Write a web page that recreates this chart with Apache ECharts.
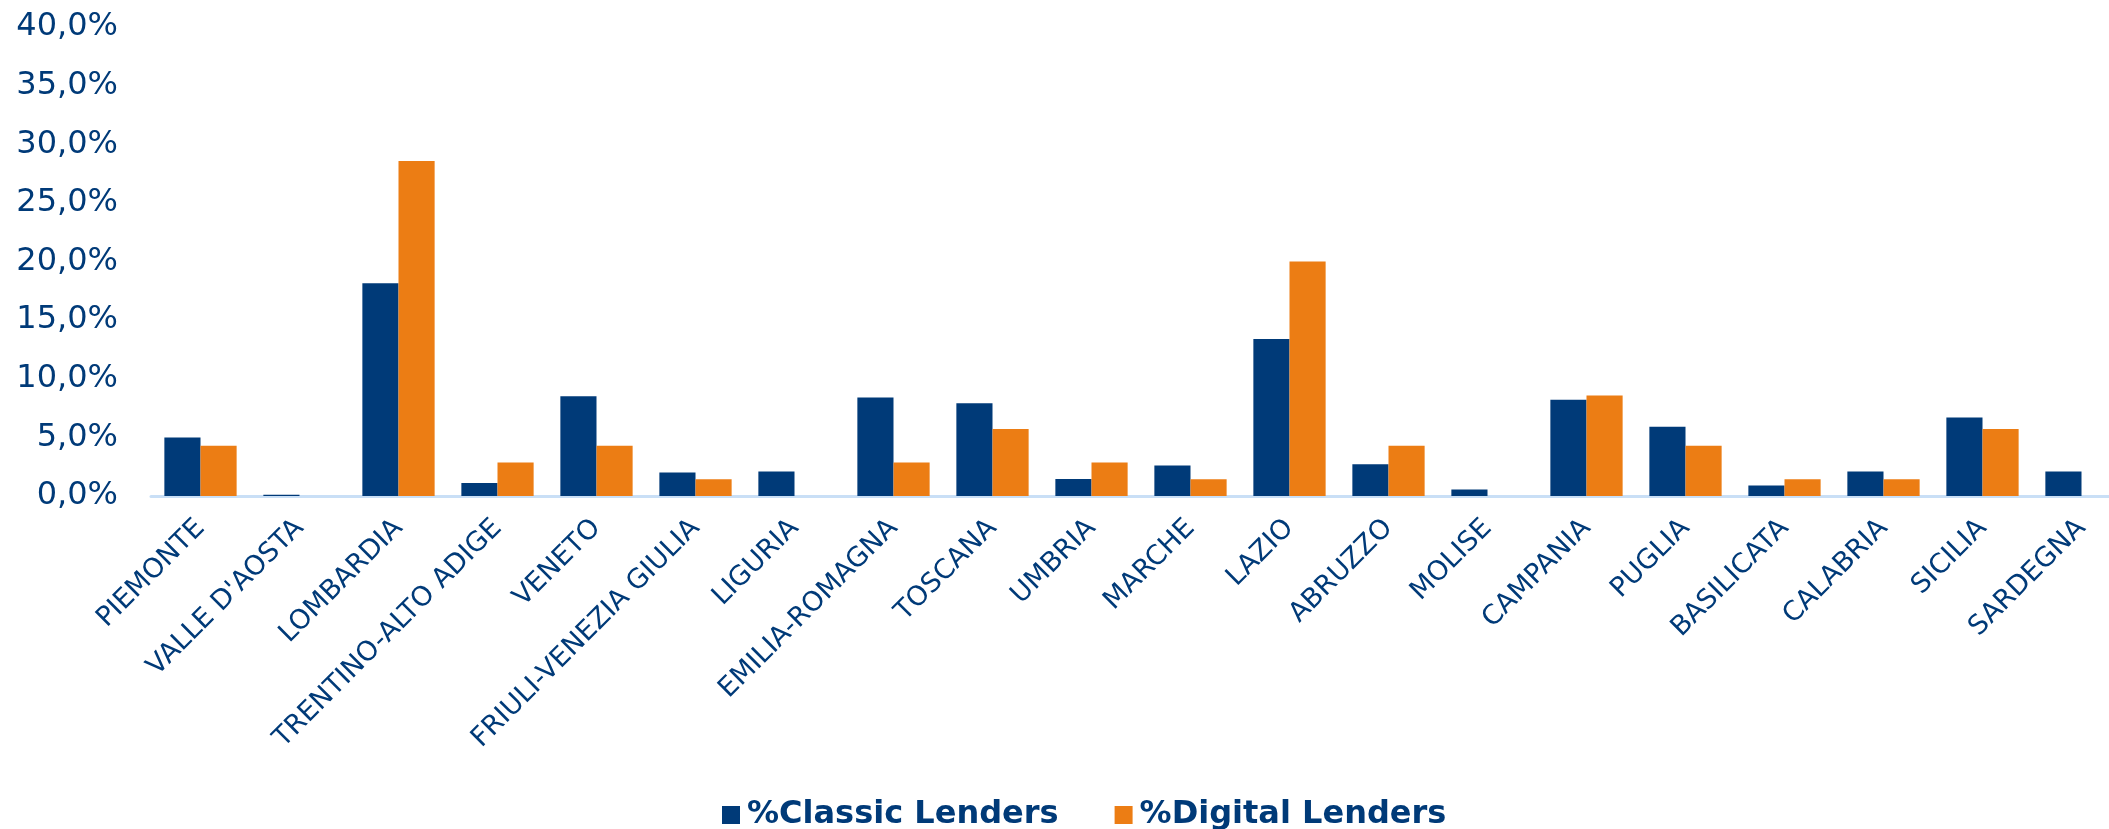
<!DOCTYPE html>
<html>
<head>
<meta charset="utf-8">
<script src="https://cdn.jsdelivr.net/npm/echarts@6/dist/echarts.min.js"></script>
<style>
    html, body { margin: 0; padding: 0; background: #fff; }
    #chart { width: 2109px; height: 829px; }
</style>
</head>
<body>
<div id="chart"></div>
<script>
    // regioni
    var regions = ['PIEMONTE', "VALLE D'AOSTA", 'LOMBARDIA', 'TRENTINO-ALTO ADIGE', 'VENETO',
        'FRIULI-VENEZIA GIULIA', 'LIGURIA', 'EMILIA-ROMAGNA', 'TOSCANA', 'UMBRIA', 'MARCHE',
        'LAZIO', 'ABRUZZO', 'MOLISE', 'CAMPANIA', 'PUGLIA', 'BASILICATA', 'CALABRIA',
        'SICILIA', 'SARDEGNA']
    // quote percentuali
    var classicLenders = [5.0, 0.1, 18.15, 1.1, 8.5, 2.0, 2.1, 8.4, 7.9, 1.45, 2.6, 13.4,
        2.7, 0.55, 8.2, 5.9, 0.9, 2.1, 6.7, 2.1]
    var digitalLenders = [4.29, 0, 28.57, 2.86, 4.29, 1.43, 0, 2.86, 5.71, 2.86, 1.43, 20.0,
        4.29, 0, 8.57, 4.29, 1.43, 1.43, 5.71, 0]
    var seriesNames = ['%Classic Lenders', '%Digital Lenders']

    var navy = '#003A78'
    var orange = '#EC7D14'

    var chart = echarts.init(document.getElementById('chart'))
    chart.setOption({
        animation: false,
        color: [navy, orange],
        textStyle: { fontFamily: 'DejaVu Sans' },
        legend: {
            data: seriesNames,
            top: 794,
            left: 717,
            itemWidth: 18,
            itemHeight: 18,
            itemGap: 56,
            icon: 'rect',
            textStyle: { color: navy, fontSize: 32, fontWeight: 'bold', padding: [0, 0, 0, 2] }
        },
        grid: {
            left: 151,
            width: 1980,
            top: 27,
            bottom: 333,
            outerBoundsMode: 'none'
        },
        xAxis: {
            type: 'category',
            data: regions,
            axisTick: { show: false },
            axisLine: { lineStyle: { color: '#C9DFF6', width: 3 } },
            axisLabel: {
                rotate: 45,
                interval: 0,
                margin: 28,
                color: navy,
                fontSize: 27
            }
        },
        yAxis: {
            type: 'value',
            min: 0,
            max: 40,
            interval: 5,
            splitLine: { show: false },
            axisLine: { show: false },
            axisLabel: {
                color: navy,
                fontSize: 32,
                margin: 33,
                formatter: function (v) {
                    return v.toFixed(1).replace('.', ',') + '%'
                }
            }
        },
        series: [
            {
                name: seriesNames[0],
                type: 'bar',
                barGap: '0%',
                barCategoryGap: '27%',
                data: classicLenders
            },
            {
                name: seriesNames[1],
                type: 'bar',
                data: digitalLenders
            }
        ]
    })
</script>
</body>
</html>
